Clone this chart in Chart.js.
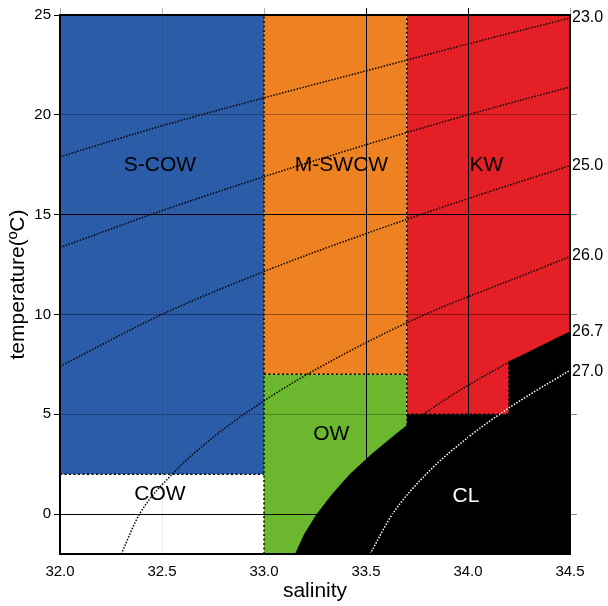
<!DOCTYPE html>
<html>
<head>
<meta charset="utf-8">
<script src="https://cdn.jsdelivr.net/npm/chart.js@4/dist/chart.umd.min.js"></script>
<style>
html,body{margin:0;padding:0;background:#fff;}
#wrap{width:608px;height:606px;}
</style>
</head>
<body>
<div id="wrap"><canvas id="c" width="608" height="606"></canvas></div>
<script>
// ---------- data ----------
const salinityRange = [32.0, 34.5];
const temperatureRange = [-2, 25];
const salinityTicks = [32.0, 32.5, 33.0, 33.5, 34.0, 34.5];
const temperatureTicks = [0, 5, 10, 15, 20, 25];

// water-mass regions (salinity bounds, temperature bounds)
const scowS = [32.0, 33.0],  scowT = [2, 25];
const cowS = [32.0, 33.0],   cowT = [-2, 2];
const mswcwS = [33.0, 33.7], mswcwT = [7, 25];
const owS = [33.0, 33.7],    owT = [-2, 7];
const kwS = [33.7, 34.5],    kwT = [5, 25];
const kwStepS = 34.2;
// CL (cold water) boundary along sigma-t 26.7 with KW step
const clS = [33.152, 33.197, 33.258, 33.334, 33.42, 33.526, 33.644, 33.70, 33.70, 34.20, 34.20, 34.273, 34.468, 34.5];
const clT = [-2, -1, 0, 1, 2, 3, 4, 4.45, 5, 5, 7.65, 8, 9, 9.15];

// isopycnals (sigma-t)
const sig23S = [32.0, 32.5, 33.0, 33.5, 34.0, 34.5];
const sig23T = [17.9, 19.45, 20.85, 22.2, 23.55, 24.85];
const sig24S = [32.0, 32.5, 33.0, 33.5, 34.0, 34.5];
const sig24T = [13.35, 15.2, 16.9, 18.5, 20.0, 21.4];
const sig25S = [32.0, 32.5, 33.0, 33.5, 34.0, 34.5];
const sig25T = [7.4, 10.0, 12.15, 14.05, 15.8, 17.45];
const sig26S = [32.3, 32.39, 32.55, 32.77, 33.05, 33.39, 33.79, 34.28, 34.5];
const sig26T = [-2, 0, 2, 4, 6, 8, 10, 12, 12.9];
const sig267S = [33.781, 33.928, 34.094, 34.208];
const sig267T = [5, 6, 7, 7.65];
const sig27S = [33.52, 33.63, 33.795, 34.02, 34.155, 34.305, 34.5];
const sig27T = [-2, 0, 2, 4, 5, 6, 7.2];

// right-hand isopycnal labels
const sigmaLabels = ['23.0', '25.0', '26.0', '26.7', '27.0'];
const sigmaLabelT = [24.85, 17.45, 12.95, 9.15, 7.15];
const rightTickT = [0, 5, 10, 15, 20];

// region labels
const regionNames = ['S-COW', 'M-SWCW', 'KW', 'OW', 'COW', 'CL'];
const regionLabelS = [32.49, 33.38, 34.09, 33.33, 32.49, 33.99];
const regionLabelT = [17.5, 17.5, 17.5, 4.0, 1.0, 0.9];

// ---------- build ----------
const pts = (xs, ys) => xs.map((x, i) => ({x: x, y: ys[i]}));
const FONT = '"Liberation Sans", Arial, Helvetica, sans-serif';
Chart.defaults.font.family = FONT;
Chart.defaults.color = '#000';

function rect(sr, tr, color, order) {
  return {data: pts(sr, [tr[1], tr[1]]), fill: {value: tr[0]}, backgroundColor: color,
    borderWidth: 0, pointRadius: 0, order: order};
}
function iso(xs, ys, color) {
  return {data: pts(xs, ys), fill: false, borderColor: color, borderWidth: 1.5,
    borderDash: [1.5, 1.5], pointRadius: 0, cubicInterpolationMode: 'monotone', order: 2};
}
function bound(xs, ys) {
  return {data: pts(xs, ys), fill: false, borderColor: '#000', borderWidth: 1.5,
    borderDash: [2, 2.5], pointRadius: 0, order: 1};
}

const datasets = [
  rect(scowS, scowT, '#2b5ca8', 10),
  rect(mswcwS, mswcwT, '#ee8121', 10),
  rect(kwS, kwT, '#e41f25', 10),
  rect(owS, owT, '#6bb72e', 10),
  {data: pts(clS, clT), fill: {value: temperatureRange[0]}, backgroundColor: '#000',
    borderWidth: 0, pointRadius: 0, order: 5},
  iso(sig23S, sig23T, '#000'),
  iso(sig24S, sig24T, '#000'),
  iso(sig25S, sig25T, '#000'),
  iso(sig26S, sig26T, '#000'),
  iso(sig267S, sig267T, '#000'),
  iso(sig27S, sig27T, '#fff'),
  bound(scowS, [scowT[0], scowT[0]]),
  bound([owS[0], owS[0]], temperatureRange),
  bound([mswcwS[1], mswcwS[1]], [4.45, mswcwT[1]]),
  bound(mswcwS, [mswcwT[0], mswcwT[0]]),
  bound([kwS[0], kwStepS], [kwT[0], kwT[0]]),
  bound([kwStepS, kwStepS], [kwT[0], 7.65])
];

function xGridColor(v) {
  if (v === 32.5) return 'rgba(0,0,0,0.08)';
  if (v === 33.5 || v === 34.0) return '#000';
  return 'rgba(0,0,0,0)';
}
function xTopTickColor(v) {
  if (v === 33.5 || v === 34.0) return '#000';
  return 'rgba(0,0,0,0.3)';
}
function yGridColor(v) {
  if (v === 0 || v === 15) return '#000';
  if (v === 5) return 'rgba(0,0,0,0.25)';
  if (v === 10) return 'rgba(0,0,0,0.4)';
  if (v === 20) return 'rgba(0,0,0,0.3)';
  return 'rgba(0,0,0,0)';
}
const rightTicks = rightTickT.concat(sigmaLabelT);
const rightText = rightTickT.map(() => '').concat(sigmaLabels);

const regionLabelPlugin = {
  id: 'regionLabels',
  afterDraw(chart) {
    const {ctx, scales} = chart;
    ctx.save();
    ctx.font = '21px ' + FONT;
    ctx.textAlign = 'center';
    ctx.textBaseline = 'middle';
    regionNames.forEach((n, i) => {
      ctx.fillStyle = n === 'CL' ? '#fff' : '#000';
      ctx.fillText(n, scales.x.getPixelForValue(regionLabelS[i]), scales.y.getPixelForValue(regionLabelT[i]));
    });
    ctx.restore();
  }
};

new Chart(document.getElementById('c'), {
  type: 'line',
  data: {datasets: datasets},
  plugins: [regionLabelPlugin],
  options: {
    responsive: false,
    animation: false,
    devicePixelRatio: 1,
    layout: {padding: 0},
    plugins: {legend: {display: false}, tooltip: {enabled: false}},
    scales: {
      x: {
        type: 'linear', position: 'bottom', min: salinityRange[0], max: salinityRange[1],
        afterBuildTicks: s => { s.ticks = salinityTicks.map(v => ({value: v})); },
        ticks: {callback: v => Number(v).toFixed(1), font: {size: 15}, padding: 9, maxRotation: 0, autoSkip: false, z: 3},
        grid: {z: 1, color: c => xGridColor(c.tick ? c.tick.value : null), lineWidth: 1, drawTicks: false},
        border: {z: 2, display: true, color: '#000', width: 2},
        title: {display: true, text: 'salinity', font: {size: 21}, padding: {top: 0, bottom: 2}},
        afterFit: s => { s.height = 52; }
      },
      x2: {
        type: 'linear', position: 'top', min: salinityRange[0], max: salinityRange[1],
        afterBuildTicks: s => { s.ticks = salinityTicks.map(v => ({value: v})); },
        ticks: {display: false},
        grid: {z: 1, drawOnChartArea: false, drawTicks: true, tickLength: 7,
          color: c => xTopTickColor(c.tick ? c.tick.value : null)},
        border: {z: 2, display: true, color: '#000', width: 2},
        afterFit: s => { s.height = 15; }
      },
      y: {
        type: 'linear', position: 'left', min: temperatureRange[0], max: temperatureRange[1],
        afterBuildTicks: s => { s.ticks = temperatureTicks.map(v => ({value: v})); },
        ticks: {font: {size: 15}, padding: 3, autoSkip: false, z: 3},
        grid: {z: 1, color: c => yGridColor(c.tick ? c.tick.value : null), lineWidth: 1, tickLength: 6, tickColor: '#000'},
        border: {z: 2, display: true, color: '#000', width: 2},
        title: {display: true, text: 'temperature(ºC)', font: {size: 21}, padding: {top: 6, bottom: 0}},
        afterFit: s => { s.width = 60; }
      },
      y2: {
        type: 'linear', position: 'right', min: temperatureRange[0], max: temperatureRange[1],
        afterBuildTicks: s => { s.ticks = rightTicks.map(v => ({value: v})); },
        ticks: {callback: (v, i) => rightText[i], font: {size: 16}, padding: -5, autoSkip: false, z: 3},
        grid: {z: 1, drawOnChartArea: false, tickLength: 7,
          color: c => (c.index < rightTickT.length ? 'rgba(0,0,0,0.45)' : 'rgba(0,0,0,0)')},
        border: {z: 2, display: true, color: '#000', width: 2},
        afterFit: s => { s.width = 38; }
      }
    }
  }
});
</script>
</body>
</html>
